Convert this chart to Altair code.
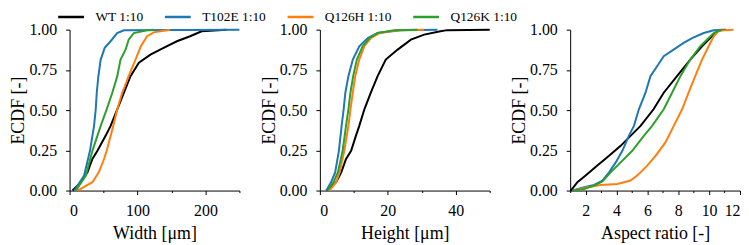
import altair as alt
import pandas as pd

FONT = "Liberation Serif"
SERIES = ["WT 1:10", "T102E 1:10", "Q126H 1:10", "Q126K 1:10"]
COLORS = ["#000000", "#1f77b4", "#ff7f0e", "#2ca02c"]

# ---- Width [um] ----
W_WT_X = [4.4, 16.6, 26.3, 33.6, 41, 53, 60.4, 70.2, 80, 89.7, 102, 119, 138.4, 158, 177.4, 194.4, 231]
W_WT_Y = [0, 0.052, 0.113, 0.196, 0.247, 0.34, 0.402, 0.505, 0.608, 0.711, 0.794, 0.845, 0.887, 0.928, 0.959, 0.99, 1.0]
W_T102E_X = [7, 21.4, 30, 36, 38.5, 40, 42.4, 45.8, 51.7, 60.4, 70, 80, 250]
W_T102E_Y = [0, 0.093, 0.247, 0.402, 0.505, 0.608, 0.711, 0.814, 0.887, 0.928, 0.979, 0.996, 1.0]
W_Q126H_X = [11.7, 33.6, 43, 50.7, 54.6, 64.3, 70.2, 77.5, 87, 97, 105, 114, 124, 148]
W_Q126H_Y = [0, 0.052, 0.113, 0.196, 0.247, 0.402, 0.505, 0.608, 0.711, 0.814, 0.897, 0.959, 0.983, 1.0]
W_Q126K_X = [9.3, 24, 33.6, 45.8, 54.6, 62.9, 70.2, 75, 82.4, 87, 94.5, 114, 124]
W_Q126K_Y = [0, 0.093, 0.247, 0.402, 0.505, 0.608, 0.711, 0.814, 0.876, 0.938, 0.979, 0.996, 1.0]

# ---- Height [um] ----
H_WT_X = [1.9, 4.8, 6.3, 7.7, 9.2, 10.6, 11.6, 13.1, 15.0, 17.0, 19.4, 22.9, 26.8, 30.7, 35.5, 37.5, 50]
H_WT_Y = [0, 0.052, 0.113, 0.196, 0.247, 0.34, 0.402, 0.505, 0.608, 0.711, 0.814, 0.876, 0.938, 0.969, 0.99, 0.997, 1.0]
H_LEVELS = [0, 0.052, 0.113, 0.247, 0.402, 0.505, 0.608, 0.711, 0.814, 0.897, 0.948, 0.979, 0.996, 1.0]
H_T102E_X = [1.9, 3.3, 4.5, 5.6, 6.4, 7.0, 7.5, 8.4, 9.7, 11.6, 14.1, 17, 23.8, 34.6]
H_Q126H_X = [2.8, 4.8, 5.8, 7.2, 8.4, 9.0, 9.7, 10.4, 11.6, 13.1, 15.0, 17.5, 22.9, 30.7]
H_Q126K_X = [2.3, 4.0, 5.3, 6.7, 7.7, 8.4, 9.0, 9.8, 10.9, 12.6, 14.6, 17, 21.9, 28.7]

# ---- Aspect ratio [-] ----
A_WT_X = [1.04, 1.47, 2.0, 2.76, 3.52, 4.27, 4.91, 5.56, 6.4, 7.06, 7.92, 8.78, 9.54, 10.18, 10.6, 11.1]
A_WT_Y = [0, 0.052, 0.093, 0.155, 0.216, 0.278, 0.34, 0.402, 0.505, 0.608, 0.711, 0.814, 0.897, 0.959, 0.996, 1.0]
A_T102E_X = [1.15, 1.9, 2.55, 3.09, 3.52, 3.95, 4.38, 4.8, 5.13, 5.45, 5.88, 6.2, 6.63, 7.06, 7.7, 8.35, 8.9, 9.65, 10.3, 10.9]
A_T102E_Y = [0, 0.021, 0.035, 0.062, 0.113, 0.175, 0.247, 0.34, 0.402, 0.505, 0.608, 0.711, 0.773, 0.835, 0.876, 0.918, 0.948, 0.979, 0.996, 1.0]
A_Q126H_X = [1.26, 2.1, 2.98, 4.05, 4.91, 5.34, 5.99, 6.53, 7.17, 7.71, 8.25, 8.67, 9.1, 9.54, 9.97, 10.3, 10.6, 11.0, 11.58]
A_Q126H_Y = [0, 0.021, 0.035, 0.041, 0.062, 0.093, 0.155, 0.216, 0.299, 0.402, 0.505, 0.608, 0.711, 0.814, 0.897, 0.959, 0.99, 0.997, 1.0]
A_Q126K_X = [1.26, 1.9, 2.55, 3.09, 3.62, 4.27, 5.02, 5.77, 6.31, 7.06, 7.6, 8.14, 8.78, 9.43, 9.97, 10.3, 10.83]
A_Q126K_Y = [0, 0.01, 0.031, 0.056, 0.113, 0.175, 0.247, 0.34, 0.402, 0.505, 0.608, 0.711, 0.814, 0.897, 0.948, 0.979, 1.0]

Y_TICKS = [0, 0.25, 0.5, 0.75, 1.0]


def frame(curves):
    rows = []
    for name, xs, ys in curves:
        for i, (xv, yv) in enumerate(zip(xs, ys)):
            rows.append({"series": name, "x": xv, "y": yv, "i": i})
    return pd.DataFrame(rows)


def panel(curves, xdom, xvals, major_mod, title, show_legend):
    df = frame(curves)
    legend = None
    if show_legend:
        legend = alt.Legend(
            title=None, orient="none", direction="horizontal",
            legendX=-6.5, legendY=-21, symbolType="M-2,0H2", symbolSize=169,
            symbolStrokeWidth=2.5, labelFont=FONT, labelFontSize=13.5,
            labelFontWeight="normal", labelOffset=16.5, columnPadding=16.5,
            labelColor="black",
        )
    return alt.Chart(df).mark_line(strokeWidth=2).encode(
        x=alt.X("x:Q", scale=alt.Scale(domain=xdom, nice=False, zero=False),
                axis=alt.Axis(values=xvals, title=title,
                              labelExpr=f"datum.value % {major_mod} == 0 ? datum.label : ''",
                              tickSize={"condition": {"test": f"datum.value % {major_mod} != 0", "value": 2}, "value": 4},
                              labelPadding=8, titlePadding=6)),
        y=alt.Y("y:Q", scale=alt.Scale(domain=[0, 1], nice=False),
                axis=alt.Axis(values=Y_TICKS, format=".2f", title="ECDF [-]",
                              tickSize=4, labelPadding=9, titlePadding=1,
                              minExtent=41, maxExtent=41)),
        color=alt.Color("series:N", scale=alt.Scale(domain=SERIES, range=COLORS), legend=legend),
        order="i:Q",
    ).properties(width=171, height=162)


p1 = panel([("WT 1:10", W_WT_X, W_WT_Y), ("T102E 1:10", W_T102E_X, W_T102E_Y),
            ("Q126H 1:10", W_Q126H_X, W_Q126H_Y), ("Q126K 1:10", W_Q126K_X, W_Q126K_Y)],
           [0, 250], [0, 50, 100, 150, 200, 250], 100, "Width [μm]", True)
p2 = panel([("WT 1:10", H_WT_X, H_WT_Y), ("T102E 1:10", H_T102E_X, H_LEVELS),
            ("Q126H 1:10", H_Q126H_X, H_LEVELS), ("Q126K 1:10", H_Q126K_X, H_LEVELS)],
           [0, 50], [0, 10, 20, 30, 40, 50], 20, "Height [μm]", False)
p3 = panel([("WT 1:10", A_WT_X, A_WT_Y), ("T102E 1:10", A_T102E_X, A_T102E_Y),
            ("Q126H 1:10", A_Q126H_X, A_Q126H_Y), ("Q126K 1:10", A_Q126K_X, A_Q126K_Y)],
           [1, 12], list(range(1, 13)), 2, "Aspect ratio [-]", False)

chart = alt.hconcat(p1, p2, p3, spacing=17).properties(
    padding={"left": 2, "top": 0, "right": 0, "bottom": 0}
).configure_view(stroke=None).configure_axis(
    grid=False, domainColor="black", tickColor="black", labelColor="black",
    titleColor="black", labelFont=FONT, titleFont=FONT, labelFontSize=16,
    titleFontSize=18, titleFontWeight="normal", domainWidth=1, tickWidth=1,
)

chart.save("out.html", embed_options={"renderer": "svg", "actions": False})
